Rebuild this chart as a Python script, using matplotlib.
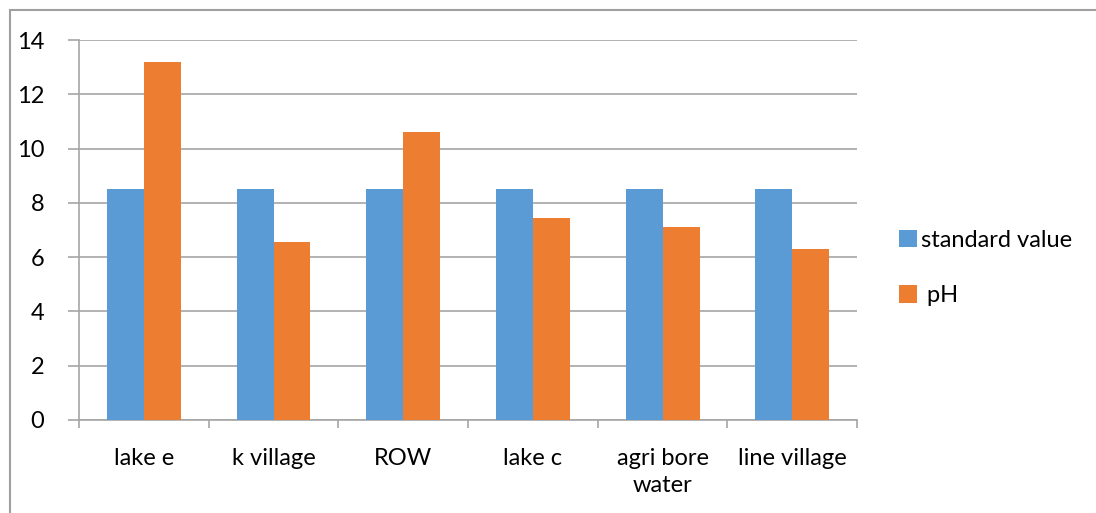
import numpy as np
import matplotlib.pyplot as plt
from matplotlib.patches import Rectangle

sites = ["lake e", "k village", "ROW", "lake c", "agri bore\nwater", "line village"]
standard_value = [8.5, 8.5, 8.5, 8.5, 8.5, 8.5]
ph = [13.2, 6.55, 10.6, 7.45, 7.1, 6.3]

blue = "#5B9BD5"
orange = "#ED7D31"
grid_grey = "#A6A6A6"

plt.rcParams['font.family'] = ['Lato', 'DejaVu Sans']
fs = 17

fig = plt.figure(figsize=(10.96, 5.13), dpi=100)
ax = fig.add_axes([0.0721, 0.1813, 0.7099, 0.7407])

x = np.arange(len(sites))
w = 0.285
ax.bar(x - w / 2, standard_value, w, color=blue, label="standard value", zorder=3)
ax.bar(x + w / 2, ph, w, color=orange, label=" pH", zorder=3)

ax.set_xlim(-0.5, len(sites) - 0.5)
ax.set_ylim(0, 14)
ax.set_yticks(range(0, 15, 2))
ax.grid(axis="y", color=grid_grey, linewidth=1.2, zorder=0)

for s in ["top", "right"]:
    ax.spines[s].set_visible(False)
for s in ["left", "bottom"]:
    ax.spines[s].set_color(grid_grey)
    ax.spines[s].set_linewidth(1.2)

ax.set_xticks(x)
ax.set_xticklabels(sites, fontsize=fs, linespacing=1.35, va="top")
ax.set_xticks(np.arange(-0.5, len(sites), 1.0), minor=True)
ax.tick_params(axis="x", which="major", length=0, pad=20)
ax.tick_params(axis="x", which="minor", length=6, color=grid_grey, width=1.2)
ax.tick_params(axis="y", length=8, color=grid_grey, width=1.2, pad=17, labelsize=fs)

leg = ax.legend(loc="center left", bbox_to_anchor=(1.027, 0.40), frameon=False,
                fontsize=fs, handlelength=0.75, handleheight=0.75,
                handletextpad=0.15, labelspacing=1.45)

# outer chart border
fig.patches.append(Rectangle((10 / 1096, -0.1), 1.2, 1 - 10 / 513 + 0.1,
                             transform=fig.transFigure, fill=False,
                             edgecolor="#A0A0A0", linewidth=1.5))

fig.savefig("out.png", dpi=100)
